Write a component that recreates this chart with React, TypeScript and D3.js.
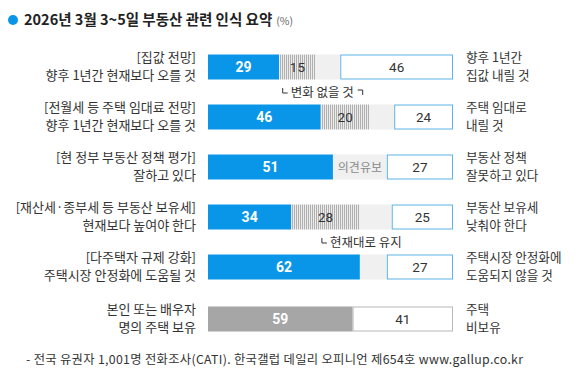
import React from "react";
import * as d3 from "d3";

const leftLabels: string[][] = [
  ["[집값 전망]", "향후 1년간 현재보다 오를 것"],
  ["[전월세 등 주택 임대료 전망]", "향후 1년간 현재보다 오를 것"],
  ["[현 정부 부동산 정책 평가]", "잘하고 있다"],
  ["[재산세·종부세 등 부동산 보유세]", "현재보다 높여야 한다"],
  ["[다주택자 규제 강화]", "주택시장 안정화에 도움될 것"],
  ["본인 또는 배우자", "명의 주택 보유"],
];
const rightLabels: string[][] = [
  ["향후 1년간", "집값 내릴 것"],
  ["주택 임대로", "내릴 것"],
  ["부동산 정책", "잘못하고 있다"],
  ["부동산 보유세", "낮춰야 한다"],
  ["주택시장 안정화에", "도움되지 않을 것"],
  ["주택", "비보유"],
];
const positive = [29, 46, 51, 34, 62, 59];
const neutral = [15, 20, 0, 28, 0, 0];
const negative = [46, 24, 27, 25, 27, 41];
const undecidedLabels = ["", "", "의견유보", "", "", ""];
const neutralNotes = [
  { after: 0, text: "변화 없을 것", right: true },
  { after: 3, text: "현재대로 유지", right: false },
];
const title = "2026년 3월 3~5일 부동산 관련 인식 요약";
const footer = "- 전국 유권자 1,001명 전화조사(CATI). 한국갤럽 데일리 오피니언 제654호 www.gallup.co.kr";

const FONT = "'Noto Sans CJK KR', 'Noto Sans', sans-serif";
const BLUE = "#0a96e8";

export default function App() {
  const x = d3.scaleLinear().domain([0, 100]).range([208, 453]);
  const rowCenters = [67, 117, 167, 217, 267, 319];
  const barH = 25;
  return (
    <svg width={580} height={380} style={{ position: "absolute", left: 0, top: 0, background: "#fff" }} fontFamily={FONT}>
      <defs>
        <pattern id="hatch" width={2} height={4} patternUnits="userSpaceOnUse">
          <rect width={2} height={4} fill="#ececec" />
          <rect width={1} height={4} fill="#b0b0b0" />
        </pattern>
      </defs>
      <circle cx={13} cy={20} r={5} fill={BLUE} />
      <text x={24} y={25} fontSize={14.5} fontWeight={700} fill="#222">
        {title}
        <tspan fontSize={10.5} fontWeight={400} fill="#666" dx={4}>(%)</tspan>
      </text>
      {positive.map((p, i) => {
        const cy = rowCenters[i];
        const y0 = cy - barH / 2;
        const isOwn = i === 5;
        const n = neutral[i];
        const neg = negative[i];
        const und = 100 - p - n - neg;
        const xs = [0, p, p + n, p + n + und, 100];
        return (
          <g key={i}>
            <rect x={x(0)} y={y0} width={x(p) - x(0)} height={barH} fill={isOwn ? "#a6a6a6" : BLUE} />
            <text x={(x(0) + x(p)) / 2} y={cy + 5} textAnchor="middle" fontSize={14} fontWeight={700} fill="#fff" fontFamily="Roboto, sans-serif">{p}</text>
            {n > 0 && (
              <g>
                <rect x={x(xs[1])} y={y0} width={x(xs[2]) - x(xs[1])} height={barH} fill="url(#hatch)" />
                <text x={(x(xs[1]) + x(xs[2])) / 2} y={cy + 5} textAnchor="middle" fontSize={13.5} fill="#333" fontFamily="Roboto, sans-serif">{n}</text>
              </g>
            )}
            {und > 0 && (
              <rect x={x(xs[2])} y={y0} width={x(xs[3]) - x(xs[2])} height={barH} fill="#f0f0f0" />
            )}
            {undecidedLabels[i] && (
              <text x={(x(xs[2]) + x(xs[3])) / 2} y={cy + 4.5} textAnchor="middle" fontSize={12} fill="#8a8a8a">{undecidedLabels[i]}</text>
            )}
            <rect x={x(xs[3]) + 0.5} y={y0 + 0.5} width={x(100) - x(xs[3]) - 1} height={barH - 1} fill="#fff" stroke={isOwn ? "#b8b8b8" : "#5db3e6"} strokeWidth={1} />
            <text x={(x(xs[3]) + x(100)) / 2} y={cy + 5} textAnchor="middle" fontSize={13.5} fill="#333" fontFamily="Roboto, sans-serif">{neg}</text>
            {leftLabels[i].map((t, j) => (
              <text key={j} x={196} y={cy - 5 + j * 18} textAnchor="end" fontSize={13} fill="#333">{t}</text>
            ))}
            {rightLabels[i].map((t, j) => (
              <text key={j} x={466} y={cy - 5 + j * 18} fontSize={12.6} fill="#333">{t}</text>
            ))}
          </g>
        );
      })}
      {neutralNotes.map((nn, k) => {
        const i = nn.after;
        const cy = (rowCenters[i] + rowCenters[i + 1]) / 2;
        const left = x(positive[i + 1]) - 38;
        return (
          <g key={k} stroke="#333" strokeWidth={1} fill="none">
            <path d={`M${left},${cy - 4} V${cy + 1} H${left + 5}`} />
            <text x={left + 8} y={cy + 4.5} fontSize={12.5} fill="#333" stroke="none">{nn.text}</text>
            {nn.right && <path d={`M${left + 75},${cy - 2} H${left + 80} V${cy + 3}`} />}
          </g>
        );
      })}
      <text x={26} y={364} fontSize={12.3} fill="#333" textLength={497} lengthAdjust="spacing">{footer}</text>
    </svg>
  );
}
